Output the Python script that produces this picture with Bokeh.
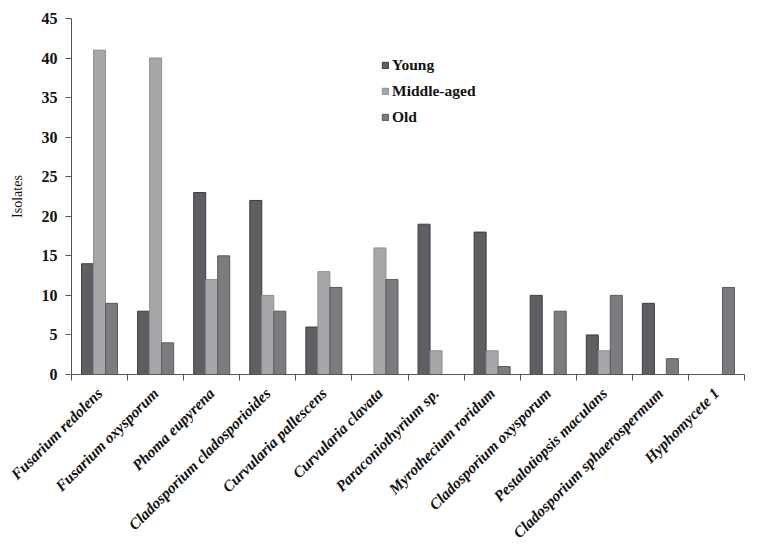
import math
from bokeh.plotting import figure
from bokeh.models import ColumnDataSource, FixedTicker, Legend, LegendItem, Range1d
from bokeh.transform import dodge
from bokeh.embed import file_html
from bokeh.resources import INLINE

species = ["Fusarium redolens", "Fusarium oxysporum", "Phoma eupyrena",
           "Cladosporium cladosporioides", "Curvularia pallescens", "Curvularia clavata",
           "Paraconiothyrium sp.", "Myrothecium roridum", "Cladosporium oxysporum",
           "Pestalotiopsis maculans", "Cladosporium sphaerospermum", "Hyphomycete 1"]
young = [14, 8, 23, 22, 6, 0, 19, 18, 10, 5, 9, 0]
middle = [41, 40, 12, 10, 13, 16, 3, 3, 0, 3, 0, 0]
old = [9, 4, 15, 8, 11, 12, 0, 1, 8, 10, 2, 11]
series_names = ["Young", "Middle-aged", "Old"]
y_ticks = [0, 5, 10, 15, 20, 25, 30, 35, 40, 45]

fills = ["#5f5f63", "#a7a7aa", "#7c7c80"]
lines = ["#3c3c3e", "#8e8e90", "#5a5a5c"]
bw = 0.214
offsets = [-bw, 0.0, bw]

centers = [i + 0.5 for i in range(len(species))]
bounds = list(range(len(species) + 1))

p = figure(width=750, height=550, output_backend="svg", toolbar_location=None,
           x_range=Range1d(0, len(species)), y_range=Range1d(0, 45),
           min_border_left=71, min_border_right=6, min_border_top=18, min_border_bottom=174)
p.outline_line_color = None
p.xgrid.grid_line_color = None
p.ygrid.grid_line_color = None
p.background_fill_color = "white"
p.border_fill_color = "white"

src = ColumnDataSource(dict(x=centers, young=young, middle=middle, old=old))
renderers = []
for key, off, fc, lc in zip(["young", "middle", "old"], offsets, fills, lines):
    r = p.vbar(x=dodge("x", off), top=key, width=bw, source=src,
               fill_color=fc, line_color=lc, line_width=1)
    renderers.append(r)

xa = p.xaxis[0]
xa.ticker = FixedTicker(ticks=centers, minor_ticks=bounds)
xa.major_label_overrides = {c: s for c, s in zip(centers, species)}
xa.major_tick_out = 0
xa.major_tick_in = 0
xa.minor_tick_out = 6
xa.minor_tick_in = 0
xa.minor_tick_line_color = "#555555"
xa.axis_line_color = "#555555"
xa.major_label_orientation = math.pi / 4
xa.major_label_text_font = "Liberation Serif"
xa.major_label_text_font_style = "bold italic"
xa.major_label_text_font_size = "15.5px"
xa.major_label_text_color = "#111111"
xa.major_label_standoff = 10

ya = p.yaxis[0]
ya.ticker = FixedTicker(ticks=y_ticks)
ya.minor_tick_line_color = None
ya.major_tick_out = 6
ya.major_tick_in = 0
ya.major_tick_line_color = "#555555"
ya.axis_line_color = "#555555"
ya.major_label_text_font = "Liberation Serif"
ya.major_label_text_font_style = "bold"
ya.major_label_text_font_size = "16px"
ya.major_label_text_color = "#111111"
ya.major_label_standoff = 8
ya.axis_label = "Isolates"
ya.axis_label_text_font = "Liberation Serif"
ya.axis_label_text_font_style = "normal"
ya.axis_label_text_font_size = "14px"
ya.axis_label_text_color = "#111111"
ya.axis_label_standoff = 14

legend = Legend(items=[LegendItem(label=n, renderers=[r]) for n, r in zip(series_names, renderers)],
                location=(310, 248), orientation="vertical")
legend.glyph_width = 8
legend.glyph_height = 8
legend.label_height = 16
legend.spacing = 8
legend.padding = 0
legend.margin = 0
legend.label_standoff = 3
legend.border_line_color = None
legend.background_fill_alpha = 0
legend.label_text_font = "Liberation Serif"
legend.label_text_font_style = "bold"
legend.label_text_font_size = "15.5px"
legend.label_text_color = "#111111"
p.add_layout(legend, "center")

open("out.html", "w").write(file_html(p, INLINE))
